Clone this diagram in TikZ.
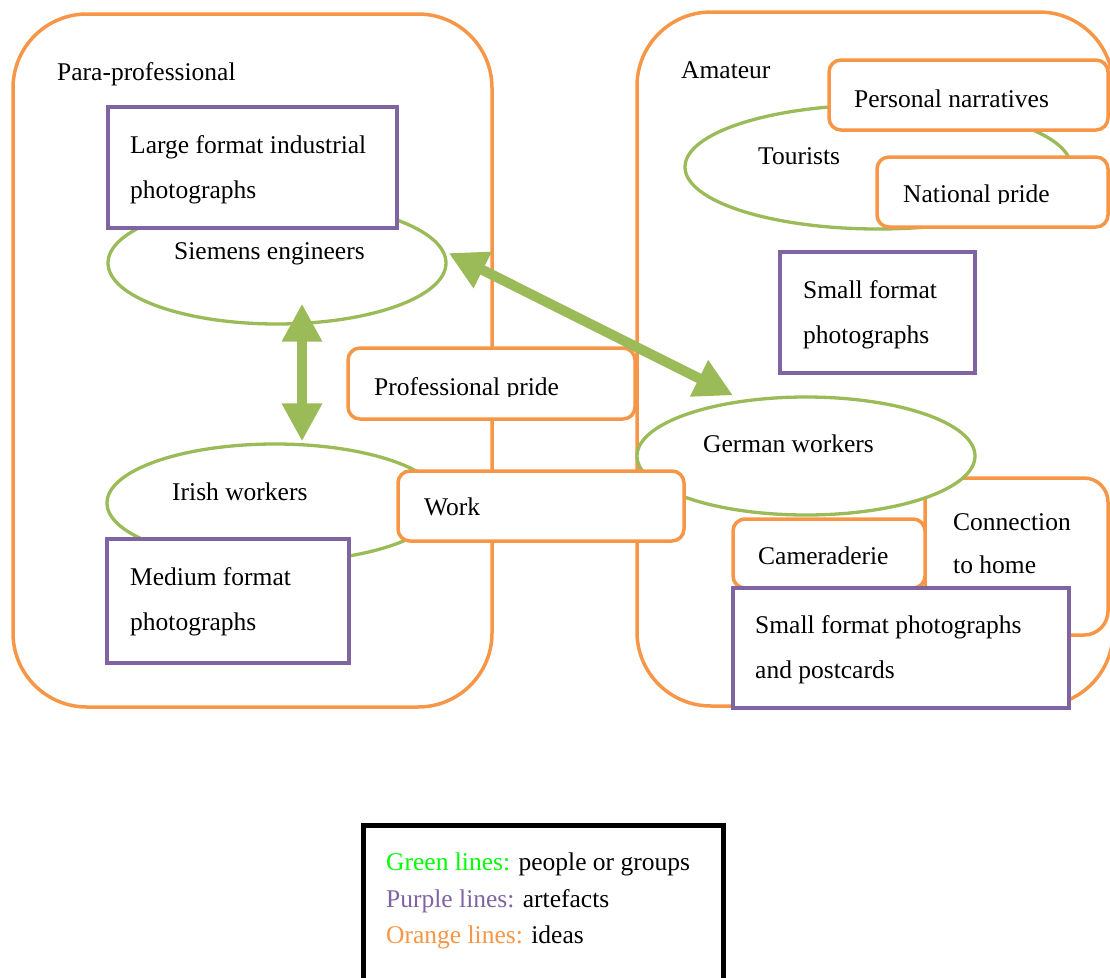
\documentclass[tikz,border=0pt]{standalone}
\usepackage{fontspec}
\setmainfont{Liberation Serif}
\usetikzlibrary{shapes.geometric,arrows.meta,calc}
\definecolor{ideaorange}{HTML}{F79646}
\definecolor{artpurple}{HTML}{8064A2}
\definecolor{peoplegreen}{HTML}{9BBB59}
\definecolor{keygreen}{HTML}{00FF00}

\begin{document}
\begin{tikzpicture}[x=1pt,y=-1pt,
  region/.style={rectangle, draw=ideaorange, line width=3.5pt, rounded corners=74pt, inner sep=0pt},
  idea/.style={rectangle, draw=ideaorange, line width=3.5pt, fill=white, rounded corners=12pt, inner sep=0pt},
  artefact/.style={rectangle, draw=artpurple, line width=4.5pt, fill=white, inner sep=0pt},
  people/.style={ellipse, draw=peoplegreen, line width=3.3pt, fill=white, inner sep=0pt},
  keybox/.style={rectangle, draw=black, line width=5pt, fill=white, inner sep=0pt},
  lbl/.style={anchor=base west, inner sep=0pt, font=\fontsize{25.5}{30}\selectfont},
  link/.style={draw=peoplegreen, line width=10pt,
    {Triangle[length=38pt,width=38pt]}-{Triangle[length=38pt,width=38pt]}},
]
\useasboundingbox (0,0) rectangle (1110,977);

% the two domains
\node[region, minimum width=479pt, minimum height=693pt] (para) at (252.5,360.5) {};
\node[region, minimum width=476pt, minimum height=694pt] (amat) at (875,359) {};
\node[lbl] (paratxt) at (57,80) {Para-professional};
\node[lbl] (amattxt) at (681,78) {Amateur};

% para-professional side
\node[people, minimum width=338pt, minimum height=122pt] (sie) at (277,263) {};
\node[artefact, minimum width=289pt, minimum height=121pt] (large) at (252.5,167.5) {};
\node[lbl] (largea) at (130,153) {Large format industrial};
\node[lbl] (largeb) at (130,198) {photographs};
\node[lbl] (sietxt) at (174,259) {Siemens engineers};

\node[people, minimum width=336pt, minimum height=118pt] (iri) at (275,503) {};
\node[artefact, minimum width=242pt, minimum height=124pt] (medium) at (228,601) {};
\node[lbl] (iritxt) at (172,500) {Irish workers};
\node[lbl] (mediuma) at (130,585) {Medium format};
\node[lbl] (mediumb) at (130,630) {photographs};

% amateur side
\node[people, minimum width=386pt, minimum height=124pt] (tour) at (878,167) {};
\node[lbl] (tourtxt) at (758,164) {Tourists};
\node[idea, minimum width=279pt, minimum height=70pt] (narr) at (968.5,95) {};
\node[lbl] (narrtxt) at (854,107) {Personal narratives};
\node[idea, minimum width=231pt, minimum height=70pt] (natp) at (992.5,192) {};
\begin{scope}
  \clip (880,160) rectangle (1105,203);
  \node[lbl] (natptxt) at (903,202) {National pride};
\end{scope}

\node[artefact, minimum width=195pt, minimum height=121pt] (small) at (877.5,312.5) {};
\node[lbl] (smalla) at (803,298) {Small format};
\node[lbl] (smallb) at (803,343) {photographs};

\node[idea, rounded corners=24pt, minimum width=183pt, minimum height=157pt] (home) at (1016.5,556.5) {};
\node[people, minimum width=338pt, minimum height=118pt] (ger) at (806,456) {};
\node[lbl] (gertxt) at (703,452) {German workers};
\node[lbl] (homea) at (953,530) {Connection};
\node[lbl] (homeb) at (953,573) {to home};
\node[idea, minimum width=192pt, minimum height=69pt] (camr) at (829,553.5) {};
\node[lbl] (camrtxt) at (758,564) {Cameraderie};
\node[artefact, minimum width=336pt, minimum height=120pt] (post) at (901,648) {};
\node[lbl] (posta) at (755,633) {Small format photographs};
\node[lbl] (postb) at (755,678) {and postcards};

% shared ideas
\node[idea, minimum width=287pt, minimum height=71pt] (prof) at (491.5,383.5) {};
\begin{scope}
  \clip (352,350) rectangle (632,396);
  \node[lbl] (proftxt) at (374,395) {Professional pride};
\end{scope}
\node[idea, minimum width=286pt, minimum height=70pt] (work) at (541,506) {};
\node[lbl] (worktxt) at (424,515) {Work};

% links between groups
\draw[link] ($(sie.south)+(25,-22)$) -- ($(iri.north)+(27,-1)$);
\draw[link] ($(sie.east)+(1,-10)$) -- ($(ger.north)+(-73,0)$);

% key
\node[keybox, minimum width=360pt, minimum height=180pt] (key) at (543,915) {};
\node[lbl] (keyg) at (386,870) {\textcolor{keygreen}{Green lines:} people or groups};
\node[lbl] (keyp) at (386,907) {\textcolor{artpurple}{Purple lines:} artefacts};
\node[lbl] (keyo) at (386,943) {\textcolor{ideaorange}{Orange lines:} ideas};
\end{tikzpicture}
\end{document}
